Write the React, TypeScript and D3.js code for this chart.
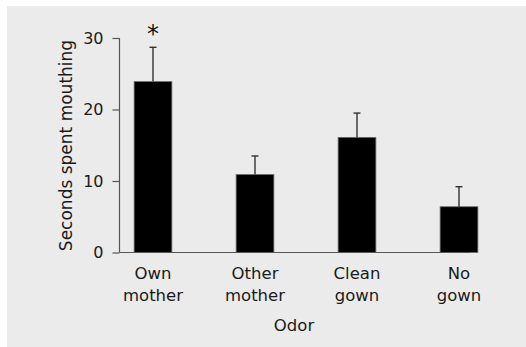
import React, { useEffect, useRef } from "react";
import * as d3 from "d3";

// chart values
const categories = ["Own mother", "Other mother", "Clean gown", "No gown"];
const means = [23.9, 10.9, 16.1, 6.4];
const errorTops = [28.7, 13.5, 19.5, 9.2];
const yTicks = [0, 10, 20, 30];
const significant = [true, false, false, false];

const FONT = "'DejaVu Sans', sans-serif";

export default function App() {
  const ref = useRef<SVGSVGElement | null>(null);

  useEffect(() => {
    const svg = d3.select(ref.current);
    svg.selectAll("*").remove();

    const width = 526;
    const height = 347;

    // grey panel
    svg.append("rect").attr("width", width).attr("height", height).attr("fill", "#ffffff");
    svg.append("rect").attr("x", 7).attr("y", 6).attr("width", width - 7).attr("height", height - 6).attr("fill", "#ebebeb");

    const x = d3.scaleBand<string>()
      .domain(categories)
      .range([102, 510])
      .paddingInner(0.63)
      .paddingOuter(0.315);

    const y = d3.scaleLinear().domain([0, 30]).range([252.5, 38]);
    const axisX = 119.5;

    // bars
    svg.selectAll("rect.bar")
      .data(categories)
      .join("rect")
      .attr("class", "bar")
      .attr("x", d => x(d)!)
      .attr("y", (d, i) => y(means[i]))
      .attr("width", x.bandwidth())
      .attr("height", (d, i) => y(0) - y(means[i]))
      .attr("fill", "#000")
      .attr("stroke", "#6a6a6a")
      .attr("stroke-width", 0.8);

    // error bars
    const err = svg.append("g").attr("stroke", "#333").attr("stroke-width", 1.4);
    categories.forEach((c, i) => {
      const cx = x(c)! + x.bandwidth() / 2;
      err.append("line").attr("x1", cx).attr("x2", cx).attr("y1", y(means[i])).attr("y2", y(errorTops[i]));
      err.append("line").attr("x1", cx - 3.5).attr("x2", cx + 3.5).attr("y1", y(errorTops[i])).attr("y2", y(errorTops[i]));
    });

    // significance asterisk
    categories.forEach((c, i) => {
      if (!significant[i]) return;
      svg.append("text")
        .attr("x", x(c)! + x.bandwidth() / 2)
        .attr("y", y(errorTops[i]) - 5)
        .attr("text-anchor", "middle")
        .attr("font-family", FONT)
        .attr("font-size", 24)
        .attr("fill", "#111")
        .text("*");
    });

    // axes
    const yAxis = svg.append("g")
      .attr("transform", `translate(${axisX},0)`)
      .call(d3.axisLeft(y).tickValues(yTicks).tickSize(7).tickPadding(9));
    yAxis.select(".domain").attr("stroke", "#555").attr("stroke-width", 1.2).attr("d", `M0,${y(30)}V${y(0)}`);
    yAxis.selectAll(".tick line").attr("stroke", "#555").attr("stroke-width", 1.2);
    yAxis.selectAll(".tick text")
      .attr("font-family", FONT)
      .attr("font-size", 16)
      .attr("fill", "#1a1a1a");

    svg.append("line")
      .attr("x1", axisX).attr("x2", 470)
      .attr("y1", y(0)).attr("y2", y(0))
      .attr("stroke", "#555").attr("stroke-width", 1.2);

    // category labels, two lines each
    categories.forEach(c => {
      const words = c.split(" ");
      const t = svg.append("text")
        .attr("text-anchor", "middle")
        .attr("font-family", FONT)
        .attr("font-size", 16.5)
        .attr("fill", "#1a1a1a");
      words.forEach((w, j) => {
        t.append("tspan")
          .attr("x", x(c)! + x.bandwidth() / 2)
          .attr("y", 279 + j * 21.5)
          .text(w);
      });
    });

    // axis titles
    svg.append("text")
      .attr("x", 294)
      .attr("y", 330.5)
      .attr("text-anchor", "middle")
      .attr("font-family", FONT)
      .attr("font-size", 16.5)
      .attr("fill", "#1a1a1a")
      .text("Odor");

    svg.append("text")
      .attr("transform", "rotate(-90)")
      .attr("x", -145.5)
      .attr("y", 72)
      .attr("text-anchor", "middle")
      .attr("font-family", FONT)
      .attr("font-size", 17)
      .attr("fill", "#1a1a1a")
      .text("Seconds spent mouthing");
  }, []);

  return (
    <svg
      ref={ref}
      width={526}
      height={347}
      style={{ position: "absolute", left: 0, top: 0 }}
    />
  );
}
